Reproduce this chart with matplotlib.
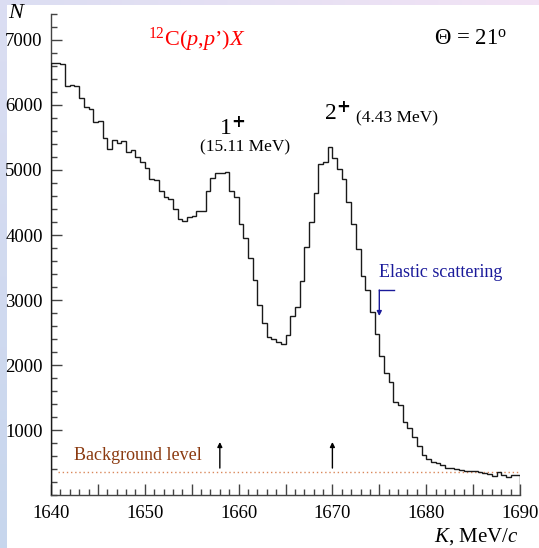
import matplotlib
matplotlib.use("Agg")
import matplotlib.pyplot as plt
import numpy as np
from matplotlib.ticker import MultipleLocator, FixedLocator

# --- Data: 12C(p,p')X spectrum, 0.5 MeV/c bins from 1640 to 1690 ---
k_min, k_max, bin_width = 1640.0, 1690.0, 0.5
counts = [
    6647, 6647, 6620, 6289, 6310, 6295, 6109, 5961, 5930, 5741,
    5756, 5485, 5321, 5459, 5418, 5449, 5280, 5300, 5200, 5126,
    5024, 4855, 4845, 4681, 4579, 4553, 4395, 4241, 4215, 4272,
    4297, 4373, 4373, 4681, 4871, 4957, 4947, 4972, 4681, 4579,
    4168, 3949, 3642, 3309, 2925, 2653, 2438, 2400, 2360, 2320,
    2464, 2756, 2900, 3290, 3820, 4195, 4645, 5085, 5126, 5347,
    5178, 5009, 4855, 4502, 4167, 3790, 3365, 3150, 2815, 2474,
    2140, 1880, 1747, 1440, 1384, 1132, 1030, 902, 759, 616,
    564, 518, 493, 467, 426, 416, 401, 390, 380, 380,
    370, 364, 349, 329, 303, 354, 313, 288, 318, 308,
]
background_level = 365
peak_positions = [1658, 1670]          # 1+ (15.11 MeV) and 2+ (4.43 MeV)
peak_arrow = (420, 820)                # arrow from / to (counts)
elastic_k = 1675.0
elastic_arrow = (3156, 2756)
x_labels = [1640, 1650, 1660, 1670, 1680, 1690]

edges = np.arange(k_min, k_max + bin_width / 2, bin_width)

plt.rcParams["font.family"] = ["Liberation Serif", "DejaVu Serif"]
plt.rcParams["mathtext.fontset"] = "custom"
plt.rcParams["mathtext.rm"] = "Liberation Serif"
plt.rcParams["mathtext.it"] = "Liberation Serif:italic"

W, H = 539, 548
fig = plt.figure(figsize=(W / 100, H / 100), dpi=100)

# slide-style background: pale strips along left and top edges
bg = fig.add_axes([0, 0, 1, 1], zorder=-10)
img = np.ones((H, W, 3))
t = np.linspace(0, 1, H)[:, None]
left_col = (1 - t) * np.array([0.86, 0.87, 0.95]) + t * np.array([0.78, 0.84, 0.93])
img[:, :7, :] = left_col[:, None, :]
s = np.linspace(0, 1, W)[:, None]
top_row = (1 - s) * np.array([0.86, 0.87, 0.95]) + s * np.array([0.95, 0.89, 0.96])
img[:5, :, :] = top_row[None, :, :]
bg.imshow(img, aspect="auto", interpolation="bilinear")
bg.axis("off")

ax = fig.add_axes([51 / W, 1 - 495.4 / H, 469 / W, 481.7 / H])
ax.set_xlim(k_min, k_max)
ax.set_ylim(0, 7400)

# background level
ax.hlines(background_level, 1640.7, k_max, colors="#d9875a",
          linestyles=(0, (1, 2)), lw=1.0, zorder=1)

# spectrum
ax.stairs(counts, edges, baseline=0, color="#1a1a1a", lw=1.0, zorder=3)

# peak markers
for k in peak_positions:
    ax.annotate("", xy=(k, peak_arrow[1]), xytext=(k, peak_arrow[0]),
                arrowprops=dict(arrowstyle="-|>", color="black", lw=1.0,
                                mutation_scale=7, shrinkA=0, shrinkB=0))

# elastic scattering pointer
ax.plot([elastic_k, elastic_k + 1.6], [elastic_arrow[0], elastic_arrow[0]],
        color="#1a1a9a", lw=1.0)
ax.annotate("", xy=(elastic_k, elastic_arrow[1]), xytext=(elastic_k, elastic_arrow[0]),
            arrowprops=dict(arrowstyle="-|>", color="#1a1a9a", lw=1.0,
                            mutation_scale=7, shrinkA=0, shrinkB=0))
ax.text(elastic_k - 0.05, elastic_arrow[0] + 270, "Elastic scattering",
        color="#1a1a9a", fontsize=13, ha="left", va="center")

ax.text(1642.4, 610, "Background level", color="#8b3a10",
        fontsize=13, ha="left", va="center")

# peak labels
ax.text(1659.3, 5640, r"1$^{\mathbf{+}}$", fontsize=17, ha="center", va="center")
ax.text(1660.7, 5340, "(15.11 MeV)", fontsize=12.5, ha="center", va="center")
ax.text(1670.5, 5870, r"2$^{\mathbf{+}}$", fontsize=17, ha="center", va="center")
ax.text(1672.5, 5790, "(4.43 MeV)", fontsize=12.5, ha="left", va="center")

ax.text(1650.3, 7000, r"$^{12}$C($p$,$p$’)$X$", color="red",
        fontsize=16, ha="left", va="center")
ax.text(1680.8, 7010, r"$\Theta$ = 21$^{\rm o}$", fontsize=16.5,
        ha="left", va="center")

# axes styling
for side in ("top", "right"):
    ax.spines[side].set_visible(False)
for side in ("left", "bottom"):
    ax.spines[side].set_color("#444444")
    ax.spines[side].set_linewidth(1.0)

ax.xaxis.set_major_locator(MultipleLocator(5))
ax.xaxis.set_minor_locator(MultipleLocator(1))
ax.set_xticklabels([str(int(v)) if int(v) in x_labels else ""
                    for v in ax.get_xticks()])
ax.yaxis.set_major_locator(FixedLocator([1000, 2000, 3000, 4000, 5000, 6000, 7000]))
ax.yaxis.set_minor_locator(MultipleLocator(200))
ax.tick_params(axis="both", which="both", direction="in", color="#444444",
               labelsize=13.5)
ax.tick_params(axis="both", which="major", length=8, width=1.0)
ax.tick_params(axis="both", which="minor", length=4, width=1.0)
ax.tick_params(axis="x", pad=7)
ax.tick_params(axis="y", pad=6)

fig.text(17 / W, 1 - 14 / H, r"$N$", fontsize=16, ha="center", va="center")
fig.text(518 / W, 1 - 537 / H, r"$K$, MeV/$c$", fontsize=15,
         ha="right", va="center")

fig.savefig("out.png", dpi=100)
